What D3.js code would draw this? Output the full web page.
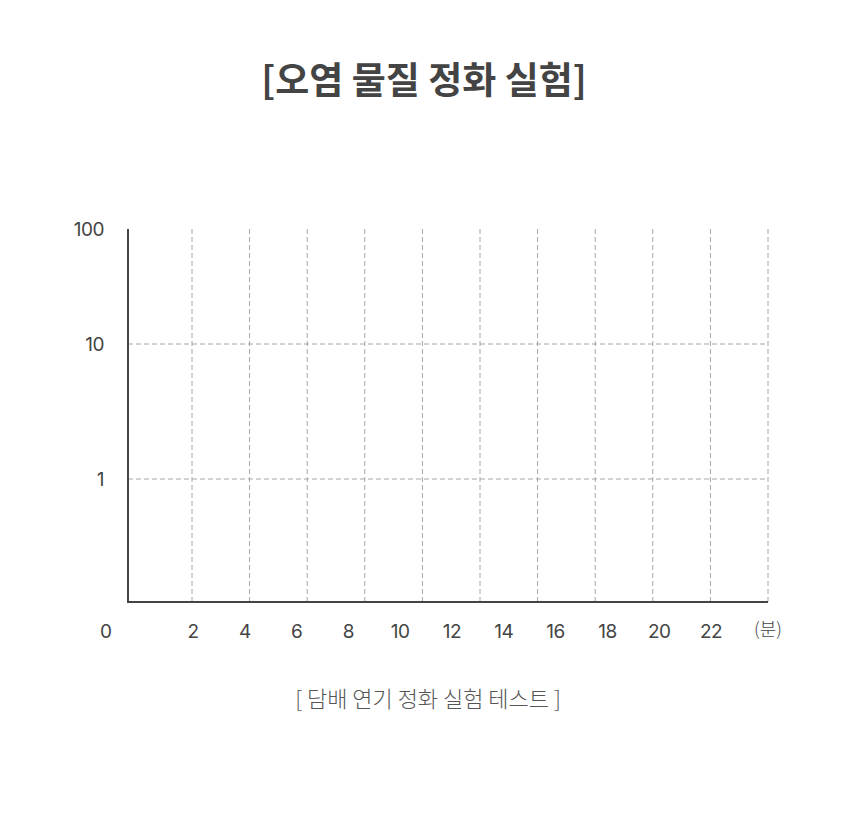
<!DOCTYPE html>
<html>
<head>
<meta charset="utf-8">
<script src="https://cdn.jsdelivr.net/npm/d3@7"></script>
<style>
  body { margin: 0; background: #fff; }
  svg { display: block; }
</style>
</head>
<body>
<svg id="chart" width="860" height="819"></svg>
<script>
// chart values
const title = "[오염 물질 정화 실험]"
const caption = "[ 담배 연기 정화 실험 테스트 ]"
const xTicks = [2, 4, 6, 8, 10, 12, 14, 16, 18, 20, 22]
const xUnit = "(분)"
const yTicks = [1, 10, 100]
const originLabel = "0"

const svg = d3.select("#chart")
const fontKr = "'Noto Sans CJK KR', 'Noto Sans', sans-serif"
const fontNum = "Inter, 'Noto Sans CJK KR', sans-serif"
const ink = "#444"

// plot box (plotTop, not top - window.top clashes)
const plotLeft = 128, plotRight = 768, plotTop = 229, plotBottom = 602

// grid columns: one dashed line per tick, evenly spread up to the right edge
const xGrid = d3.scaleLinear().domain([0, xTicks.length]).range([plotRight - 57.6 * xTicks.length, plotRight])
// tick labels sit on their own spacing (as in the reference)
const xLabel = d3.scaleLinear().domain([2, 22]).range([193, 711])
// y: log spaced rows, not evenly
const y = d3.scaleLog().domain([1, 10, 100]).range([479, 344, 229])

// title
svg.append("text")
    .attr("x", 424).attr("y", 94)
    .attr("text-anchor", "middle")
    .attr("font-family", fontKr)
    .attr("font-weight", 700)
    .attr("font-size", 37)
    .attr("fill", ink)
    .text(title)

// vertical dashed grid
svg.append("g").selectAll("line")
    .data(xTicks)
    .join("line")
    .attr("x1", (d, i) => xGrid(i + 1)).attr("x2", (d, i) => xGrid(i + 1))
    .attr("y1", plotTop).attr("y2", plotBottom)
    .attr("stroke", "#a6a6a6")
    .attr("stroke-width", 1)
    .attr("stroke-dasharray", "5,3")

// horizontal dashed grid (skip the top value)
svg.append("g").selectAll("line")
    .data(yTicks.filter(d => d < 100))
    .join("line")
    .attr("x1", plotLeft).attr("x2", plotRight)
    .attr("y1", d => y(d)).attr("y2", d => y(d))
    .attr("stroke", "#a6a6a6")
    .attr("stroke-width", 1)
    .attr("stroke-dasharray", "5,3")

// axes
svg.append("line")
    .attr("x1", plotLeft).attr("x2", plotLeft)
    .attr("y1", plotTop).attr("y2", plotBottom + 1)
    .attr("stroke", ink).attr("stroke-width", 2)
svg.append("line")
    .attr("x1", plotLeft - 1).attr("x2", plotRight)
    .attr("y1", plotBottom).attr("y2", plotBottom)
    .attr("stroke", ink).attr("stroke-width", 2)

// y labels
svg.append("g").selectAll("text")
    .data(yTicks)
    .join("text")
    .attr("x", 104)
    .attr("y", d => y(d) + 2)
    .attr("dominant-baseline", "middle")
    .attr("text-anchor", "end")
    .attr("font-family", fontNum)
    .attr("font-size", 19)
    .attr("letter-spacing", -0.5)
    .attr("fill", ink)
    .text(d => d)

// x labels
const labelY = 633
svg.append("g").selectAll("text")
    .data(xTicks)
    .join("text")
    .attr("x", d => xLabel(d))
    .attr("y", labelY)
    .attr("dominant-baseline", "middle")
    .attr("text-anchor", "middle")
    .attr("font-family", fontNum)
    .attr("font-size", 19)
    .attr("letter-spacing", -0.5)
    .attr("fill", ink)
    .text(d => d)

svg.append("text")
    .attr("x", 106).attr("y", labelY)
    .attr("dominant-baseline", "middle")
    .attr("text-anchor", "middle")
    .attr("font-family", fontNum)
    .attr("font-size", 19)
    .attr("fill", ink)
    .text(originLabel)

svg.append("text")
    .attr("x", plotRight).attr("y", labelY - 2)
    .attr("dominant-baseline", "middle")
    .attr("text-anchor", "middle")
    .attr("font-family", fontKr)
    .attr("font-weight", 300)
    .attr("font-size", 18)
    .attr("fill", ink)
    .text(xUnit)

// caption
svg.append("text")
    .attr("x", 428).attr("y", 701)
    .attr("dominant-baseline", "middle")
    .attr("text-anchor", "middle")
    .attr("font-family", fontKr)
    .attr("font-weight", 300)
    .attr("font-size", 22)
    .attr("fill", "#555")
    .text(caption)
</script>
</body>
</html>
